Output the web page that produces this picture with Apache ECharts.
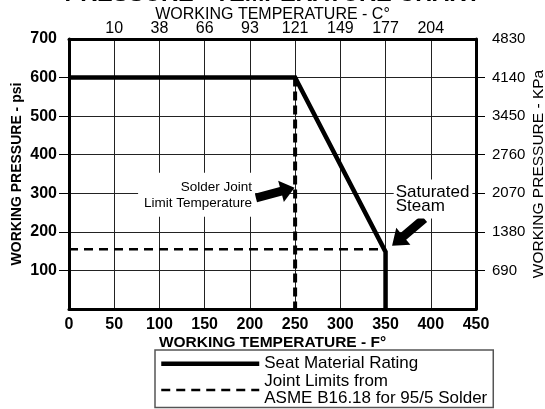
<!DOCTYPE html>
<html>
<head>
<meta charset="utf-8">
<script src="https://cdn.jsdelivr.net/npm/echarts@6/dist/echarts.min.js"></script>
<style>
  html, body { margin: 0; padding: 0; background: #fff; }
  #chart { width: 545px; height: 409px; }
</style>
</head>
<body>
<div id="chart"></div>
<script>
const FONT = "'Liberation Sans', Arial, sans-serif";

// seat material rating (solid)
const seatTempF = [0, 250, 350, 350];
const seatPsi = [600, 600, 148, 0];
// joint limits (dashed)
const jointTempF = [0, 350];
const jointPsi = [155, 155];
const solderTempF = [250, 250];
const solderPsi = [600, 0];

// tick labels
const celsiusLabels = ["", "10", "38", "66", "93", "121", "149", "177", "204", ""];
const kpaLabels = ["", "690", "1380", "2070", "2760", "3450", "4140", "4830"];

// annotation anchors (data coords)
const solderNote = [208, 296];
const solderArrow = [228, 301];
const steamNote = [359, 285];
const steamArrow = [375, 199];

const arrowPath = "path://M0,3 L6.5,3 L6.5,0 L10,5 L6.5,10 L6.5,7 L0,7 Z";

const zip = (xs, ys) => xs.map((x, i) => [x, ys[i]]);

const chart = echarts.init(document.getElementById("chart"), null, { renderer: "canvas" });

const tickCustom = [100, 200, 300, 400, 500, 600];
const seatName = "Seat Material Rating";
const jointName = "Joint Limits from\nASME B16.18 for 95/5 Solder";
const border = { show: true, onZero: false, lineStyle: { color: "#000", width: 3 } };

chart.setOption({
  animation: false,
  backgroundColor: "#fff",
  textStyle: { fontFamily: FONT },
  title: {
    text: "PRESSURE - TEMPERATURE CHART",
    left: "center",
    top: -17,
    padding: 0,
    textStyle: { fontFamily: FONT, fontSize: 23.5, fontWeight: "bold", color: "#000" }
  },
  grid: { left: 69, right: 69, top: 39, bottom: 100, outerBoundsMode: "none", containLabel: false },
  legend: {
    orient: "vertical",
    left: 155,
    top: 350,
    height: 80,
    padding: [5, 6, 0, 4],
    itemGap: 0,
    itemWidth: 98,
    itemHeight: 14,
    borderColor: "#555",
    borderWidth: 1.5,
    itemStyle: { color: "rgba(0,0,0,0)", borderWidth: 0, opacity: 0 },
    lineStyle: { width: "inherit", type: "inherit" },
    textStyle: { fontFamily: FONT, fontSize: 17, color: "#000", lineHeight: 17.5 },
    data: [seatName, jointName]
  },
  xAxis: [
    {
      type: "value", position: "bottom", min: 0, max: 450, interval: 50,
      name: "WORKING TEMPERATURE - F°", nameLocation: "middle", nameGap: 26, nameMoveOverlap: false,
      nameTextStyle: { fontFamily: FONT, fontSize: 15.5, fontWeight: "bold", color: "#000" },
      axisLine: border,
      axisTick: { show: false },
      axisLabel: { margin: 8, fontFamily: FONT, fontSize: 16, fontWeight: "bold", color: "#000" },
      splitLine: { show: true, lineStyle: { color: "#222", width: 1 } }
    },
    {
      type: "value", position: "top", min: 0, max: 450, interval: 50,
      name: "WORKING TEMPERATURE - C°", nameLocation: "middle", nameGap: 16, nameMoveOverlap: false,
      nameTextStyle: { fontFamily: FONT, fontSize: 16, color: "#000" },
      axisLine: border,
      axisTick: { show: false },
      axisLabel: { margin: 2, fontFamily: FONT, fontSize: 16, color: "#000",
        formatter: (v) => celsiusLabels[Math.round(v / 50)] },
      splitLine: { show: false }
    }
  ],
  yAxis: [
    {
      type: "value", position: "left", min: 0, max: 700, interval: 100,
      name: "WORKING PRESSURE - psi", nameLocation: "middle", nameGap: 45, nameMoveOverlap: false,
      nameTextStyle: { fontFamily: FONT, fontSize: 14, fontWeight: "bold", color: "#000" },
      axisLine: border,
      axisTick: { show: true, inside: false, length: 10, customValues: tickCustom,
        lineStyle: { color: "#000", width: 1 } },
      axisLabel: { margin: 12, fontFamily: FONT, fontSize: 16, fontWeight: "bold", color: "#000",
        formatter: (v) => (v === 0 ? "" : String(v)) },
      splitLine: { show: true, lineStyle: { color: "#222", width: 1 } }
    },
    {
      type: "value", position: "right", min: 0, max: 700, interval: 100,
      name: "WORKING PRESSURE - KPa", nameLocation: "middle", nameGap: 55, nameMoveOverlap: false,
      nameTextStyle: { fontFamily: FONT, fontSize: 15.5, color: "#000" },
      axisLine: border,
      axisTick: { show: true, inside: false, length: 9, customValues: tickCustom,
        lineStyle: { color: "#000", width: 1 } },
      axisLabel: { margin: 16, fontFamily: FONT, fontSize: 15, color: "#000",
        formatter: (v) => kpaLabels[Math.round(v / 100)] },
      splitLine: { show: false }
    }
  ],
  series: [
    {
      name: jointName,
      type: "line",
      data: zip(jointTempF, jointPsi),
      symbol: "none",
      itemStyle: { color: "#000" },
      lineStyle: { color: "#000", width: 2.5, type: [9, 6] },
      z: 3
    },
    {
      name: jointName,
      type: "line",
      data: zip(solderTempF, solderPsi),
      symbol: "none",
      itemStyle: { color: "#000" },
      lineStyle: { color: "#000", width: 4, type: [9, 5] },
      z: 3
    },
    {
      name: seatName,
      type: "line",
      data: zip(seatTempF, seatPsi),
      symbol: "none",
      itemStyle: { color: "#000" },
      lineStyle: { color: "#000", width: 4.5, cap: "butt", join: "miter" },
      z: 4,
      markPoint: {
        silent: true,
        data: [
          {
            coord: solderNote, symbol: "rect", symbolSize: 0,
            label: { show: true, position: "left", distance: 2, formatter: "Solder Joint\nLimit Temperature",
              fontFamily: FONT, fontSize: 13.5, lineHeight: 16, color: "#000", align: "right",
              backgroundColor: "#fff", padding: [6, 3, 6, 6] }
          },
          {
            coord: steamNote, symbol: "rect", symbolSize: 0,
            label: { show: true, position: "right", distance: 0, formatter: "Saturated\nSteam",
              fontFamily: FONT, fontSize: 17, lineHeight: 14, color: "#000", align: "left",
              backgroundColor: "#fff", padding: [6, 3, 5, 2] }
          },
          {
            coord: solderArrow, symbol: arrowPath, symbolSize: [40, 22], symbolRotate: 15,
            itemStyle: { color: "#000" }, label: { show: false }
          },
          {
            coord: steamArrow, symbol: arrowPath, symbolSize: [42, 22], symbolRotate: 220,
            itemStyle: { color: "#000" }, label: { show: false }
          }
        ]
      }
    }
  ]
});
</script>
</body>
</html>
